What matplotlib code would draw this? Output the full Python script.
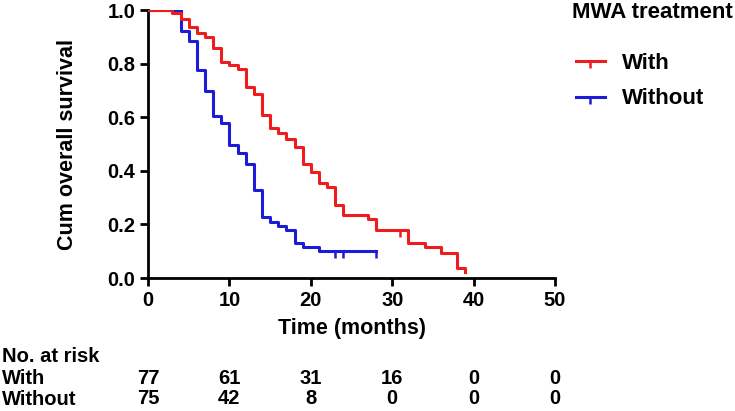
import matplotlib
matplotlib.use("Agg")
import matplotlib.pyplot as plt
from matplotlib.lines import Line2D
from matplotlib.transforms import blended_transform_factory

plt.rcParams['font.family'] = ['Liberation Sans', 'DejaVu Sans']
plt.rcParams['font.weight'] = 'bold'

# Kaplan-Meier steps
t_with = [0, 3, 4, 5, 6, 7, 8, 9, 10, 11, 12, 13, 14, 15, 16, 17, 18, 19, 20, 21,
          22, 23, 24, 27, 28, 32, 34, 36, 38, 39]
s_with = [1.0, 0.988, 0.965, 0.938, 0.913, 0.90, 0.857, 0.807, 0.795, 0.78, 0.714,
          0.687, 0.608, 0.559, 0.54, 0.518, 0.49, 0.425, 0.395, 0.353, 0.34, 0.274,
          0.234, 0.219, 0.179, 0.131, 0.114, 0.095, 0.038, 0.021]
cens_t_with = [31]
cens_s_with = [0.179]

t_without = [0, 4, 5, 6, 7, 8, 9, 10, 11, 12, 13, 14, 15, 16, 17, 18, 19, 21, 28]
s_without = [1.0, 0.92, 0.886, 0.776, 0.699, 0.604, 0.577, 0.496, 0.465, 0.425,
             0.328, 0.226, 0.21, 0.194, 0.179, 0.129, 0.114, 0.10, 0.10]
cens_t_without = [23, 24, 28]
cens_s_without = [0.10, 0.10, 0.10]

risk_times = [0, 10, 20, 30, 40, 50]
risk_with = [77, 61, 31, 16, 0, 0]
risk_without = [75, 42, 8, 0, 0, 0]

red = '#ee1c1c'
blue = '#1c1cd6'
lw = 2.2

fig = plt.figure(figsize=(7.35, 4.11), dpi=100)
ax = fig.add_axes([148 / 735, 1 - 278 / 411, 407 / 735, 268 / 411])

ax.step(t_with, s_with, where='post', color=red, lw=lw, zorder=3)
ax.plot(cens_t_with, cens_s_with, ls='none', marker=3, ms=5, mew=1.8, color=red, zorder=3)
ax.step(t_without, s_without, where='post', color=blue, lw=lw, zorder=2)
ax.plot(cens_t_without, cens_s_without, ls='none', marker=3, ms=5, mew=1.8, color=blue, zorder=2)

ax.set_xlim(0, 50)
ax.set_ylim(0, 1.0)
ax.set_xticks(risk_times)
ax.set_yticks([0.0, 0.2, 0.4, 0.6, 0.8, 1.0])
ax.set_yticklabels(['0.0', '0.2', '0.4', '0.6', '0.8', '1.0'])
for s in ['top', 'right']:
    ax.spines[s].set_visible(False)
for s in ['left', 'bottom']:
    ax.spines[s].set_linewidth(2.0)
ax.tick_params(width=2.0, length=6, labelsize=14.5, direction='out', pad=3)
for lab in ax.get_xticklabels() + ax.get_yticklabels():
    lab.set_fontweight('bold')
ax.set_xlabel('Time (months)', fontsize=15.5, fontweight='bold', labelpad=6)
ax.set_ylabel('Cum overall survival', fontsize=15.5, fontweight='bold', labelpad=21)

# legend outside right
fig.text(572 / 735, 1 - 13 / 411, 'MWA treatment', fontsize=16, fontweight='bold',
         va='center', ha='left')
handles = [Line2D([0], [0], color=red, lw=lw, marker=3, ms=5, mew=1.8),
           Line2D([0], [0], color=blue, lw=lw, marker=3, ms=5, mew=1.8)]
leg = fig.legend(handles, ['With', 'Without'], loc='upper left',
                 bbox_to_anchor=(576 / 735, 1 - 53 / 411), frameon=False,
                 prop={'size': 16, 'weight': 'bold'}, handlelength=1.3,
                 handletextpad=0.75, labelspacing=0.65, numpoints=1,
                 borderpad=0, borderaxespad=0)

# number at risk table
trans = blended_transform_factory(ax.transData, ax.transAxes)
fig.text(2 / 735, 1 - 356 / 411, 'No. at risk', fontsize=14.5, fontweight='bold', va='center')
fig.text(2 / 735, 1 - 378 / 411, 'With', fontsize=14.5, fontweight='bold', va='center')
fig.text(2 / 735, 1 - 399 / 411, 'Without', fontsize=14.5, fontweight='bold', va='center')
for t, a, b in zip(risk_times, risk_with, risk_without):
    ax.text(t, -100 / 268, str(a), transform=trans, ha='center', va='center',
            fontsize=14.5, fontweight='bold', clip_on=False)
    ax.text(t, -121 / 268, str(b), transform=trans, ha='center', va='center',
            fontsize=14.5, fontweight='bold', clip_on=False)

fig.savefig('out.png', dpi=100)
